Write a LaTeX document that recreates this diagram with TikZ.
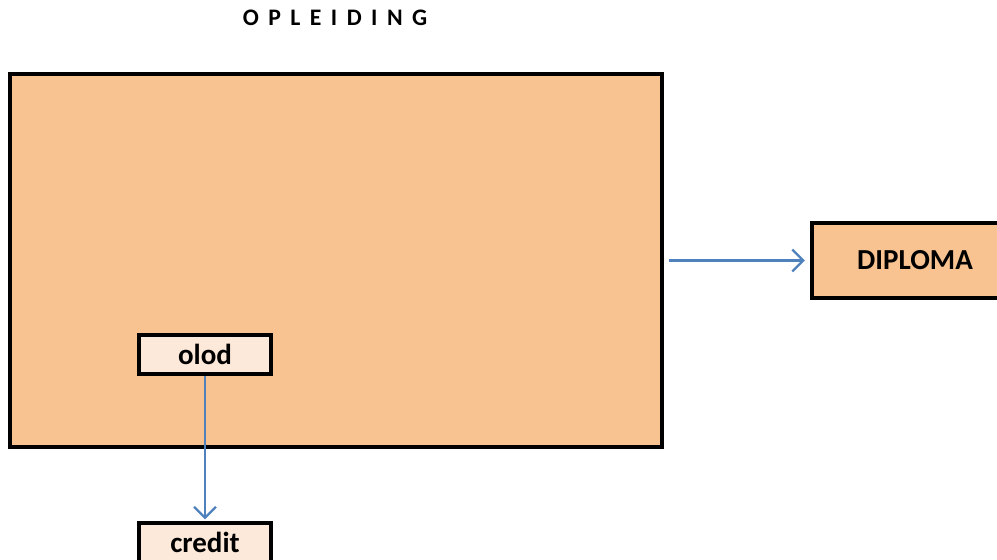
\documentclass[tikz,border=0pt]{standalone}
\usepackage{fontspec}
\setmainfont{Carlito}
\usepackage{tikz}
\usetikzlibrary{positioning, arrows.meta}
\definecolor{peach}{RGB}{248,194,145}
\definecolor{lightpeach}{RGB}{253,233,217}
\definecolor{lineblue}{RGB}{79,129,189}
\tikzstyle{op}=[%
      rectangle, draw=black, line width=2.1pt, fill=peach,
      minimum width=13.04cm, minimum height=7.46cm, inner sep=0pt
]
\tikzstyle{dp}=[%
      rectangle, draw=black, line width=2.1pt, fill=peach,
      font=\bfseries\fontsize{16.5}{19}\selectfont,
      minimum width=4.12cm, minimum height=1.5cm, inner sep=0pt
]
\tikzstyle{ol}=[%
      rectangle, draw=black, line width=2.1pt, fill=lightpeach,
      font=\bfseries\fontsize{16.5}{19}\selectfont,
      minimum width=2.64cm, minimum height=0.78cm, inner sep=0pt
]
\tikzstyle{ar}=[%
      draw=lineblue, line width=1.3pt,
      -{Straight Barb[length=2.2mm,width=4.4mm]}
]

\begin{document}
\begin{tikzpicture}[x=0.02cm, y=-0.02cm]
    \useasboundingbox (0,0) rectangle (997,559);
    \node[font=\bfseries\fontsize{13.5}{16}\selectfont] (title) at (335,18)
        {O\hspace{0.4em}P\hspace{0.4em}L\hspace{0.4em}E\hspace{0.4em}I\hspace{0.4em}D\hspace{0.4em}I\hspace{0.4em}N\hspace{0.4em}G};
    \node[op] (opl) at (336,260.5) {};
    \node[dp] (dipl) at (915,260.5) {DIPLOMA};
    \node[ol] (olod) at (205,354.5) {olod};
    \node[ol] (cred) at (205,542.5) {credit};

    \draw[ar, shorten <=3pt, shorten >=3pt] (opl.east |- dipl.west) -- (dipl.west);
    \draw[ar, shorten >=1pt] (olod.south) -- (cred.north);
\end{tikzpicture}
\end{document}
